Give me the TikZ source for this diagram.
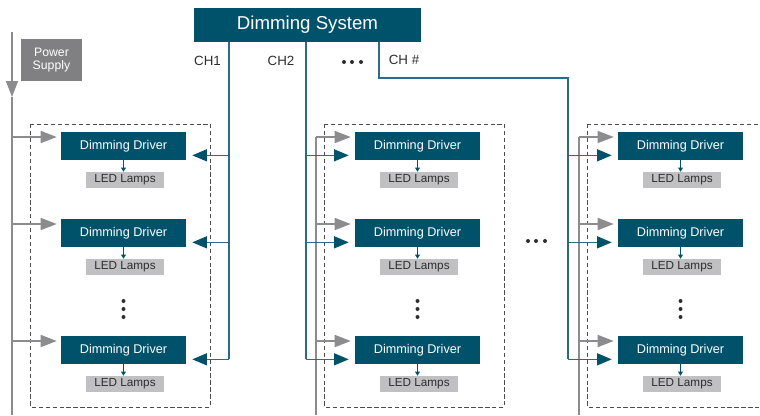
\documentclass[tikz,border=0pt]{standalone}
\usepackage{fontspec}
\setmainfont{Liberation Sans}
\usepackage{tikz}
\usetikzlibrary{arrows.meta}
\definecolor{deepteal}{RGB}{0,82,107}
\definecolor{chblue}{RGB}{40,108,138}
\definecolor{pwrgray}{RGB}{140,140,142}
\definecolor{boxgray}{RGB}{128,128,130}
\definecolor{lampgray}{RGB}{192,192,194}
\definecolor{txtgray}{RGB}{45,45,45}

\begin{document}
\begin{tikzpicture}[x=0.75pt,y=-0.75pt,
    sysbox/.style={fill=deepteal, text=white, minimum width=170.25pt, minimum height=25.5pt, inner sep=0pt, font=\fontsize{14}{15}\selectfont},
    pwrbox/.style={fill=boxgray, text=white, minimum width=45.75pt, minimum height=31.5pt, inner sep=0pt, align=center, font=\fontsize{9.2}{10}\selectfont},
    driver/.style={fill=deepteal, text=white, minimum width=93.75pt, minimum height=21pt, inner sep=0pt, font=\fontsize{9.5}{10}\selectfont},
    lamp/.style={fill=lampgray, text=txtgray, minimum width=58.5pt, minimum height=12pt, inner sep=0pt, font=\fontsize{8.8}{9}\selectfont},
    chlabel/.style={text=txtgray, font=\fontsize{10}{12}\selectfont},
    pwrline/.style={draw=pwrgray, line width=1.1pt},
    pwrarr/.style={pwrline, -{Triangle[length=12pt,width=9pt]}, shorten >=3pt},
    chline/.style={draw=chblue, line width=1pt},
    charr/.style={chline, -{Triangle[length=11pt,width=9pt,color=deepteal]}, shorten >=4.5pt},
    lmparr/.style={draw=deepteal, line width=0.8pt, -{Triangle[length=3pt,width=3.5pt]}},
    groupbox/.style={draw=black!70, dash pattern=on 3.2pt off 2pt, line width=0.75pt}]

    \clip (0,0) rectangle (760,415);

    % top
    \node[sysbox] (sys) at (307.5,25) {Dimming System};
    \node[pwrbox] (pwr) at (51.5,60) {Power\\Supply};
    \node[chlabel] (lblch1) at (207.5,61) {CH1};
    \node[chlabel] (lblch2) at (281,61) {CH2};
    \node[chlabel] (lblchn) at (404,60) {CH \#};
    \foreach \x in {344,352,361} \fill[txtgray] (\x,62) circle (1.5pt);
    \foreach \x in {528,536,545} \fill[txtgray] (\x,241) circle (1.5pt);

    % groups
    \foreach \g/\cx in {A/123.5,B/417.5,C/680.5} {
        \foreach \r/\cy in {1/146,2/233,3/350} {
            \node[driver] (drv\g\r) at (\cx,\cy) {Dimming Driver};
            \node[lamp] (lmp\g\r) at (\cx+1.5,\cy+34) {LED Lamps};
            \draw[lmparr] (drv\g\r.south) -- (drv\g\r.south |- lmp\g\r.north);
        }
        \foreach \dy in {301,309,317} \fill[txtgray] (\cx,\dy) circle (1.5pt);
        \draw[groupbox] (\cx-93,124) rectangle (\cx+87,407);
    }

    % power supply
    \coordinate (pwrtop) at (12,32);
    \coordinate (pwrmid) at (12,97);
    \coordinate (pwrA) at (12,415);
    \coordinate (pwrB) at (316,415);
    \coordinate (pwrC) at (579,415);
    \draw[pwrarr, shorten >=0pt] (pwrtop) -- (pwrmid);
    \draw[pwrline] (pwrmid) -- (pwrA);
    \foreach \r in {1,2,3} {
        \coordinate (inA\r) at ([yshift=6.75pt]drvA\r.west);
        \coordinate (inB\r) at ([yshift=6.75pt]drvB\r.west);
        \coordinate (inC\r) at ([yshift=6.75pt]drvC\r.west);
        \draw[pwrarr] (pwrA |- inA\r) -- (inA\r);
        \draw[pwrarr] (pwrB |- inB\r) -- (inB\r);
        \draw[pwrarr] (pwrC |- inC\r) -- (inC\r);
    }
    \draw[pwrline] (pwrB |- inB1) -- (pwrB);
    \draw[pwrline] (pwrC |- inC1) -- (pwrC);

    % channels
    \coordinate (ch1) at (229,42);
    \coordinate (ch2) at (306,42);
    \coordinate (chn) at (379,42);
    \coordinate (chbend) at (568,78);
    \foreach \r in {1,2,3} {
        \coordinate (ctA\r) at ([yshift=-7pt]drvA\r.east);
        \coordinate (ctB\r) at ([yshift=-7pt]drvB\r.west);
        \coordinate (ctC\r) at ([yshift=-7pt]drvC\r.west);
        \draw[charr] (ch1 |- ctA\r) -- (ctA\r);
        \draw[charr] (ch2 |- ctB\r) -- (ctB\r);
        \draw[charr] (chbend |- ctC\r) -- (ctC\r);
    }
    \draw[chline] (ch1) -- (ch1 |- ctA3);
    \draw[chline] (ch2) -- (ch2 |- ctB3);
    \draw[chline] (chn) |- (chbend) -- (chbend |- ctC3);
\end{tikzpicture}
\end{document}
